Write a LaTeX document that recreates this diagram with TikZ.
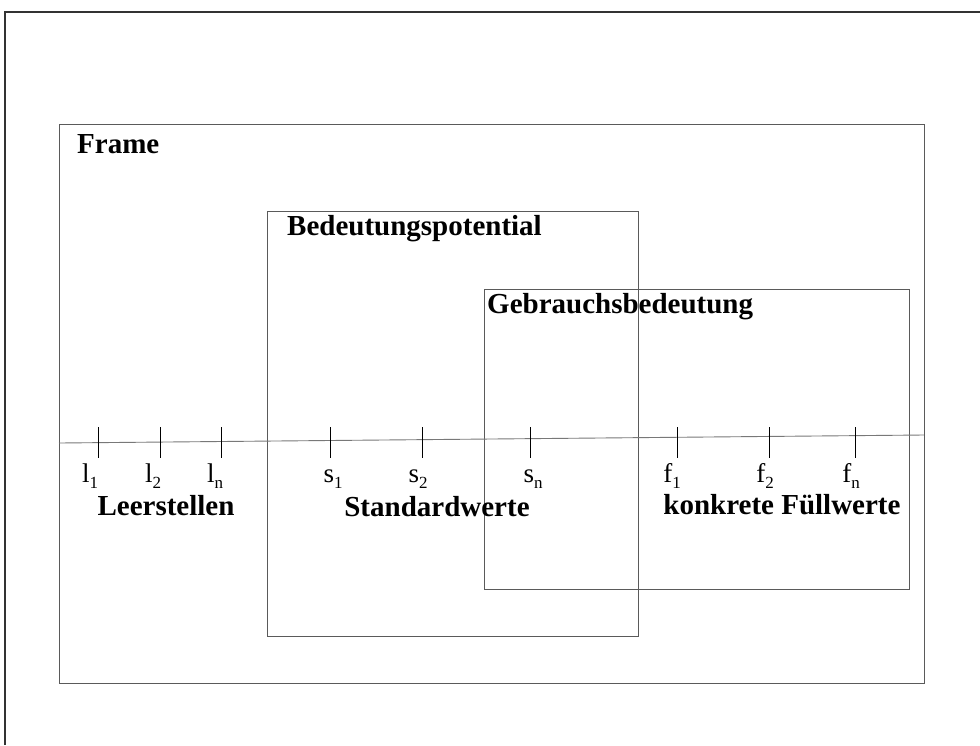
\documentclass[tikz,border=0pt]{standalone}
\usepackage{fontspec}
\setmainfont{Liberation Serif}
\usepackage{xcolor}
\definecolor{boxgray}{RGB}{90,90,90}
\definecolor{axisgray}{RGB}{120,120,120}
\newcommand{\idx}[2]{#1\raisebox{-6pt}{\fontsize{17}{17}\selectfont #2}}

\tikzset{
  box/.style={draw=boxgray, line width=0.9pt},
  tickmark/.style={draw=black, line width=0.8pt},
  title/.style={anchor=base west, inner sep=0pt, font=\fontsize{29}{34}\selectfont\bfseries},
  caption/.style={anchor=base, inner sep=0pt, font=\fontsize{29}{34}\selectfont\bfseries},
  val/.style={anchor=base, inner sep=0pt, font=\fontsize{27}{30}\selectfont}
}

\begin{document}
\begin{tikzpicture}[x=1pt,y=-1pt]
  \useasboundingbox (0,0) rectangle (980,745);

  % page border, only top and left edge visible
  \draw[black!80, line width=1.4pt] (5,745) -- (5,12) -- (980,12);

  \coordinate (F1) at (59,124);
  \coordinate (F2) at (924,683);
  \coordinate (P1) at (267,211);
  \coordinate (P2) at (638,636);
  \coordinate (G1) at (484,289);
  \coordinate (G2) at (909,589);

  \draw[box] (F1) rectangle (F2);
  \draw[box] (P1) rectangle (P2);
  \draw[box] (G1) rectangle (G2);

  \node[title] (frame) at (77,153) {Frame};
  \node[title] (potential) at (287,235) {Bedeutungspotential};
  \node[title] (gebrauch) at (487,313) {Gebrauchsbedeutung};

  % axis
  \coordinate (A) at (59,443);
  \coordinate (B) at (924,435);
  \draw[axisgray, line width=0.9pt] (A) -- (B);

  \draw[tickmark] (98,427) -- (98,458);
  \draw[tickmark] (160,427) -- (160,458);
  \draw[tickmark] (221,427) -- (221,458);
  \draw[tickmark] (330,427) -- (330,458);
  \draw[tickmark] (422,427) -- (422,458);
  \draw[tickmark] (530,427) -- (530,458);
  \draw[tickmark] (677,427) -- (677,458);
  \draw[tickmark] (769,427) -- (769,458);
  \draw[tickmark] (855,427) -- (855,458);

  \node[val] (l1) at (90,482) {\idx{l}{1}};
  \node[val] (l2) at (153,482) {\idx{l}{2}};
  \node[val] (ln) at (215,482) {\idx{l}{n}};
  \node[val] (s1) at (333,482) {\idx{s}{1}};
  \node[val] (s2) at (418,482) {\idx{s}{2}};
  \node[val] (sn) at (533,482) {\idx{s}{n}};
  \node[val] (f1) at (672,482) {\idx{f}{1}};
  \node[val] (f2) at (765,482) {\idx{f}{2}};
  \node[val] (fn) at (851,482) {\idx{f}{n}};

  \node[caption] (leer) at (166,515) {Leerstellen};
  \node[caption] (standard) at (437,516) {Standardwerte};
  \node[caption] (konkret) at (782,514) {konkrete Füllwerte};
\end{tikzpicture}
\end{document}
